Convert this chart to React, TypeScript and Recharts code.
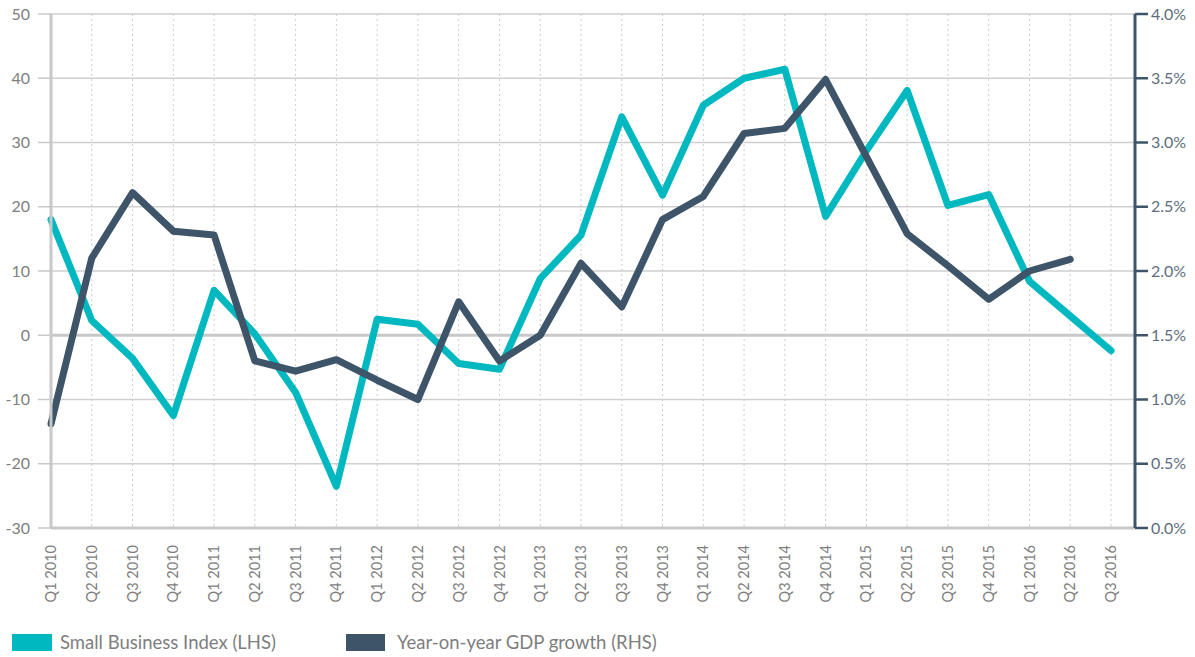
import React from "react";
import {
  LineChart,
  Line,
  XAxis,
  YAxis,
  CartesianGrid,
  ReferenceLine,
} from "recharts";

const quarters = [
  "Q1 2010", "Q2 2010", "Q3 2010", "Q4 2010",
  "Q1 2011", "Q2 2011", "Q3 2011", "Q4 2011",
  "Q1 2012", "Q2 2012", "Q3 2012", "Q4 2012",
  "Q1 2013", "Q2 2013", "Q3 2013", "Q4 2013",
  "Q1 2014", "Q2 2014", "Q3 2014", "Q4 2014",
  "Q1 2015", "Q2 2015", "Q3 2015", "Q4 2015",
  "Q1 2016", "Q2 2016", "Q3 2016",
];

const smallBusinessIndex = [
  18.0, 2.3, -3.6, -12.5,
  7.0, 0.2, -8.9, -23.5,
  2.5, 1.7, -4.4, -5.3,
  8.8, 15.6, 34.0, 21.8,
  35.8, 40.0, 41.4, 18.5,
  28.7, 38.1, 20.2, 21.9,
  8.4, 3.0, -2.4,
];

const gdpGrowth: (number | null)[] = [
  0.81, 2.1, 2.61, 2.31,
  2.28, 1.3, 1.22, 1.31,
  1.15, 1.0, 1.76, 1.3,
  1.5, 2.06, 1.72, 2.4,
  2.58, 3.07, 3.11, 3.49,
  2.89, 2.29, 2.04, 1.78,
  2.0, 2.09, null,
];

const leftTicks = [-30, -20, -10, 0, 10, 20, 30, 40, 50];
const rightTicks = [0, 0.5, 1, 1.5, 2, 2.5, 3, 3.5, 4];

const legendLabels = ["Small Business Index (LHS)", "Year-on-year GDP growth (RHS)"];

const TEAL = "#00b8bf";
const SLATE = "#3e5468";
const TEXT = "#7e7e7e";
const FONT = "Lato, 'Open Sans', sans-serif";

const data = quarters.map((q, i) => ({
  q,
  sbi: smallBusinessIndex[i],
  gdp: gdpGrowth[i],
}));

const XTick = (props: any) => {
  const { x, y, payload } = props;
  return (
    <g transform={`translate(${x},${y})`}>
      <text
        transform="rotate(-90)"
        x={-9}
        y={0}
        dy="0.35em"
        textAnchor="end"
        fill={TEXT}
        fontSize={14.5}
        fontFamily={FONT}
      >
        {payload.value}
      </text>
    </g>
  );
};

export default function App() {
  return (
    <div
      style={{
        position: "absolute",
        left: 0,
        top: 0,
        width: 1195,
        height: 657,
        background: "#fff",
        fontFamily: FONT,
      }}
    >
      <LineChart
        width={1195}
        height={620}
        data={data}
        margin={{ top: 14, right: 0, bottom: 0, left: 0 }}
      >
        <CartesianGrid
          yAxisId="left"
          vertical={false}
          stroke="#cfcfcf"
          strokeWidth={1.5}
        />
        <CartesianGrid
          yAxisId="left"
          horizontal={false}
          stroke="#cccccc"
          strokeDasharray="2 3"
        />
        <XAxis
          dataKey="q"
          interval={0}
          padding={{ left: 0, right: 24 }}
          height={92}
          tickLine={false}
          axisLine={{ stroke: "#c8c8c8", strokeWidth: 3 }}
          tick={<XTick />}
        />
        <YAxis
          yAxisId="left"
          orientation="left"
          width={51}
          domain={[-30, 50]}
          ticks={leftTicks}
          interval={0}
          tickSize={13}
          tickMargin={8}
          axisLine={{ stroke: "#c8c8c8", strokeWidth: 3 }}
          tickLine={{ stroke: "#c8c8c8", strokeWidth: 1.5 }}
          tick={{ fill: TEXT, fontSize: 16, fontFamily: FONT }}
        />
        <YAxis
          yAxisId="right"
          orientation="right"
          width={60}
          domain={[0, 4]}
          ticks={rightTicks}
          interval={0}
          tickSize={13}
          tickMargin={3}
          axisLine={{ stroke: SLATE, strokeWidth: 3 }}
          tickLine={{ stroke: SLATE, strokeWidth: 2.5 }}
          tickFormatter={(v: number) => `${v.toFixed(1)}%`}
          tick={{ fill: "#5d6e7e", fontSize: 16, fontFamily: FONT }}
        />
        <ReferenceLine yAxisId="left" y={0} stroke="#c8c8c8" strokeWidth={3} />
        <Line
          yAxisId="left"
          type="linear"
          dataKey="sbi"
          stroke={TEAL}
          strokeWidth={7}
          strokeLinejoin="round"
          strokeLinecap="round"
          dot={false}
          activeDot={false}
          isAnimationActive={false}
        />
        <Line
          yAxisId="right"
          type="linear"
          dataKey="gdp"
          stroke={SLATE}
          strokeWidth={7}
          strokeLinejoin="round"
          strokeLinecap="round"
          dot={false}
          activeDot={false}
          isAnimationActive={false}
        />
      </LineChart>
      <div style={{ position: "absolute", left: 12, top: 634, width: 40, height: 17, background: TEAL }} />
      <div
        style={{
          position: "absolute",
          left: 60,
          top: 630,
          height: 25,
          lineHeight: "25px",
          fontSize: 18.5,
          color: TEXT,
          whiteSpace: "nowrap",
        }}
      >
        {legendLabels[0]}
      </div>
      <div style={{ position: "absolute", left: 346, top: 634, width: 39, height: 17, background: SLATE }} />
      <div
        style={{
          position: "absolute",
          left: 397,
          top: 630,
          height: 25,
          lineHeight: "25px",
          fontSize: 18.5,
          color: TEXT,
          whiteSpace: "nowrap",
        }}
      >
        {legendLabels[1]}
      </div>
    </div>
  );
}
